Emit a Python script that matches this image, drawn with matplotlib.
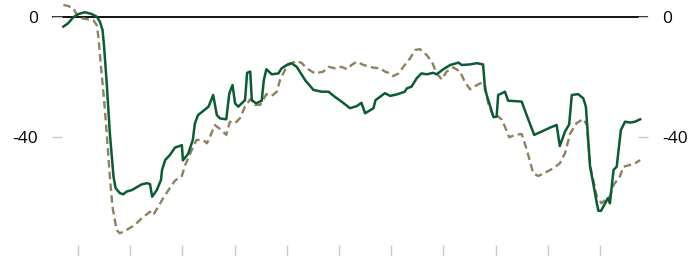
import matplotlib
matplotlib.use("Agg")
import matplotlib.pyplot as plt

# solid green series (decimal year, value)
green_x = [2009.72, 2009.81, 2009.91, 2010.01, 2010.13, 2010.26, 2010.36, 2010.42, 2010.47, 2010.50,
           2010.55, 2010.61, 2010.68, 2010.72, 2010.80, 2010.87, 2010.93, 2011.03, 2011.12, 2011.22,
           2011.32, 2011.38, 2011.42, 2011.51, 2011.59, 2011.61, 2011.67, 2011.76, 2011.86, 2011.95,
           2011.99, 2012.01, 2012.11, 2012.20, 2012.24, 2012.30, 2012.40, 2012.50, 2012.59, 2012.66,
           2012.72, 2012.84, 2012.90, 2012.96, 2013.01, 2013.07, 2013.20, 2013.24, 2013.30, 2013.33,
           2013.41, 2013.52, 2013.56, 2013.61, 2013.71, 2013.84, 2013.90, 2014.03, 2014.09, 2014.19,
           2014.35, 2014.51, 2014.67, 2014.80, 2014.92, 2015.05, 2015.21, 2015.34, 2015.43, 2015.50,
           2015.66, 2015.70, 2015.88, 2015.98, 2016.11, 2016.26, 2016.30, 2016.39, 2016.49, 2016.58,
           2016.68, 2016.81, 2016.87, 2017.00, 2017.13, 2017.29, 2017.35, 2017.51, 2017.64, 2017.76,
           2017.80, 2017.86, 2017.96, 2018.02, 2018.05, 2018.18, 2018.24, 2018.34, 2018.50, 2018.63,
           2018.74, 2018.88, 2019.04, 2019.17, 2019.23, 2019.33, 2019.41, 2019.46, 2019.58, 2019.68,
           2019.73, 2019.81, 2019.87, 2019.94, 2019.97, 2020.02, 2020.10, 2020.15, 2020.19, 2020.26,
           2020.32, 2020.40, 2020.48, 2020.58, 2020.67, 2020.77]
green_y = [-3.2, -2.1, -0.1, 1.0, 1.6, 1.0, 0.1, -1.6, -4.3, -9.9,
           -22.0, -38.7, -53.2, -57.0, -58.7, -59.1, -58.2, -57.7, -56.8, -55.8,
           -55.4, -55.7, -59.9, -57.7, -54.3, -51.0, -47.7, -46.0, -43.5, -43.0,
           -42.7, -47.8, -45.6, -41.0, -35.4, -32.7, -31.3, -29.9, -26.0, -32.7,
           -33.8, -34.1, -25.4, -22.7, -28.8, -29.9, -27.7, -18.6, -18.2, -27.7,
           -28.8, -27.9, -21.0, -17.4, -19.1, -18.8, -17.1, -15.7, -15.4, -16.6,
           -21.0, -24.3, -24.9, -24.9, -26.6, -28.2, -30.4, -29.7, -28.6, -32.1,
           -30.4, -27.7, -25.4, -26.3, -25.8, -24.9, -23.8, -23.2, -20.4, -18.8,
           -19.1, -18.6, -19.1, -17.4, -16.0, -15.2, -16.0, -15.8, -15.4, -15.8,
           -24.3, -27.7, -33.4, -33.2, -26.0, -24.9, -27.9, -28.0, -28.2, -34.3,
           -39.3, -38.2, -36.9, -36.0, -43.0, -38.2, -35.8, -26.0, -25.7, -27.1,
           -29.9, -49.9, -55.4, -62.1, -64.6, -64.6, -62.1, -60.4, -62.1, -51.0,
           -49.9, -37.7, -34.9, -35.2, -34.9, -34.1]

# dashed tan series
tan_x = [2009.72, 2009.81, 2009.91, 2009.98, 2010.07, 2010.20, 2010.29, 2010.36, 2010.39, 2010.44,
         2010.50, 2010.55, 2010.61, 2010.66, 2010.74, 2010.80, 2010.93, 2011.09, 2011.22, 2011.38,
         2011.41, 2011.44, 2011.54, 2011.63, 2011.76, 2011.86, 2011.99, 2012.05, 2012.18, 2012.27,
         2012.40, 2012.47, 2012.53, 2012.62, 2012.75, 2012.84, 2012.91, 2013.01, 2013.10, 2013.20,
         2013.30, 2013.39, 2013.49, 2013.61, 2013.71, 2013.81, 2013.87, 2013.97, 2014.06, 2014.19,
         2014.29, 2014.38, 2014.54, 2014.70, 2014.80, 2014.92, 2015.05, 2015.15, 2015.24, 2015.34,
         2015.47, 2015.66, 2015.79, 2015.88, 2015.98, 2016.04, 2016.14, 2016.26, 2016.36, 2016.46,
         2016.55, 2016.68, 2016.78, 2016.87, 2016.97, 2017.06, 2017.19, 2017.32, 2017.41, 2017.51,
         2017.61, 2017.73, 2017.80, 2017.86, 2017.96, 2018.02, 2018.12, 2018.18, 2018.26, 2018.37,
         2018.50, 2018.60, 2018.72, 2018.82, 2018.98, 2019.11, 2019.23, 2019.33, 2019.43, 2019.55,
         2019.68, 2019.75, 2019.81, 2019.87, 2019.94, 2020.03, 2020.13, 2020.19, 2020.26, 2020.38,
         2020.45, 2020.58, 2020.67, 2020.77]
tan_y = [4.0, 3.7, 2.9, 0.7, -0.4, -0.8, -1.0, -2.7, -6.6, -16.6,
         -27.7, -38.7, -53.2, -63.2, -71.0, -72.1, -71.0, -69.3, -67.1, -64.9,
         -65.4, -66.0, -63.2, -60.4, -57.0, -54.5, -53.0, -49.5, -44.3, -41.0,
         -41.0, -42.1, -39.9, -36.0, -37.7, -39.3, -34.9, -35.4, -33.8, -29.9,
         -27.4, -29.3, -29.3, -25.7, -26.3, -24.9, -21.0, -17.5, -15.7, -14.6,
         -15.4, -17.1, -18.8, -18.2, -16.6, -17.1, -16.6, -17.4, -16.0, -14.9,
         -16.0, -16.9, -17.1, -18.2, -18.8, -19.7, -18.8, -16.0, -13.8, -11.0,
         -10.7, -12.7, -14.9, -18.8, -20.8, -18.2, -16.8, -18.2, -21.6, -24.1,
         -23.0, -21.9, -23.2, -28.8, -33.2, -32.7, -34.3, -36.6, -40.1, -39.3,
         -39.0, -44.3, -52.1, -53.0, -51.6, -50.4, -48.8, -45.4, -38.8, -35.4,
         -34.0, -36.0, -49.3, -54.3, -59.9, -62.1, -60.4, -59.9, -56.0, -53.2,
         -49.9, -49.3, -48.8, -47.7]

year_ticks = list(range(2010, 2021))
y_ticks = [0, -40]
y_labels = ["0", "-40"]

plt.rcParams['font.family'] = ['Open Sans', 'DejaVu Sans']

fig = plt.figure(figsize=(6.99, 2.56), dpi=100)
ax = fig.add_axes([52 / 699, 0, 596 / 699, 1])

tick_col = '#d3cab5'
ax.axhline(0, color='black', lw=1.3, zorder=1)
ax.plot(tan_x, tan_y, color='#8f8060', lw=1.7, dashes=(3.2, 1.8), zorder=2)
ax.plot(green_x, green_y, color='#0b5c34', lw=1.8, zorder=3)

ax.set_xlim(2009.502, 2020.92)
ax.set_ylim(-79.67, 5.67)
ax.set_xticks(year_ticks)
ax.set_xticklabels([])
ax.set_yticks(y_ticks)
ax.set_yticklabels(y_labels)
ax.tick_params(axis='x', direction='in', length=8, width=1, color=tick_col)
ax.tick_params(axis='y', direction='in', length=7.5, width=1, color=tick_col,
               labelsize=12.5, pad=10, left=True, right=True,
               labelleft=True, labelright=True)
for s in ax.spines.values():
    s.set_visible(False)

fig.savefig('out.png', dpi=100)
